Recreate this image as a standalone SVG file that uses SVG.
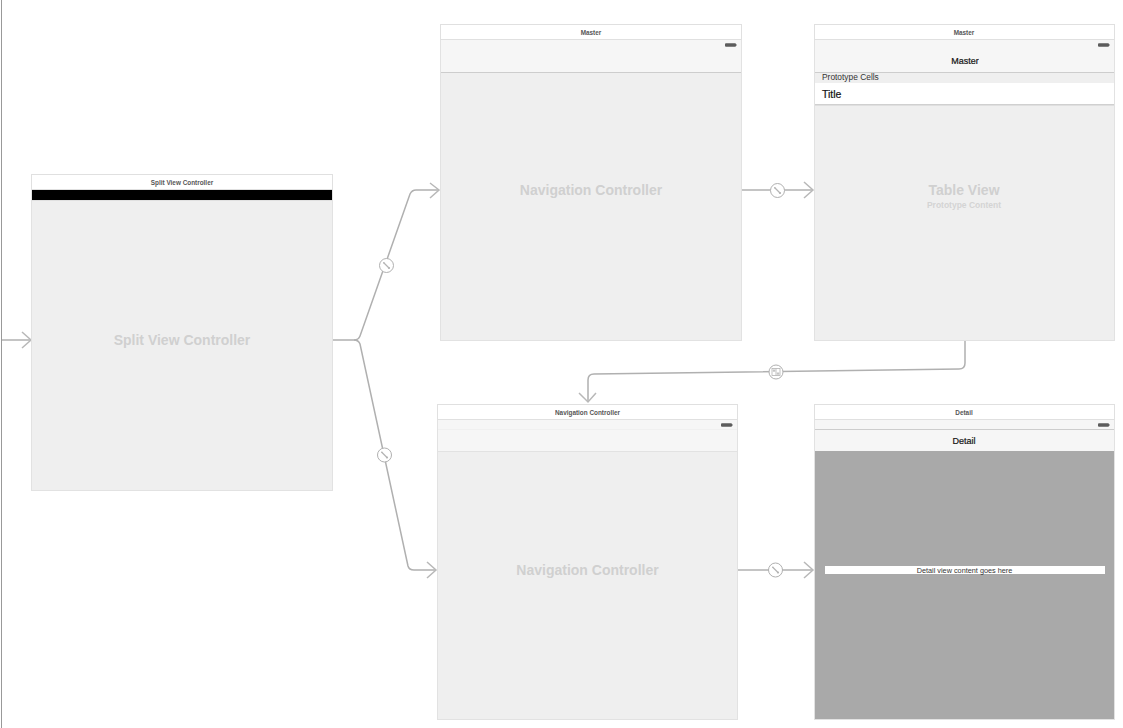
<svg xmlns="http://www.w3.org/2000/svg" width="1123" height="728" viewBox="0 0 1123 728">
<defs>
<style>
text{font-family:"Liberation Sans",Arial,sans-serif;text-anchor:middle;opacity:.99}
.frame{fill:#efefef;stroke:#e2e2e2;stroke-width:1}
.head{fill:#fff;stroke:#e0e0e0;stroke-width:1}
.bar{fill:#f6f6f6}
.sep{stroke:#cdcdcd;stroke-width:1;fill:none}
.ttl{font-size:6.400px;font-weight:bold;fill:#555}
.big{font-size:14px;font-weight:bold;fill:#d0d0d0}
.nav{font-size:9px;fill:#111;stroke:#111;stroke-width:.2}
.conn{fill:none;stroke:#b0b0b0;stroke-width:1.500}
.ah{fill:none;stroke:#b8b8b8;stroke-width:1.500}
.badge{fill:#fff;stroke:#b0b0b0;stroke-width:1}
.ic{fill:none;stroke:#b4b4b4;stroke-width:1.200;stroke-linecap:round}
.ic2{fill:none;stroke:#b4b4b4;stroke-width:.8}
</style>
<g id="batt"><rect x="0" y="0" width="11" height="3.400" rx="1" fill="#5c5c5c"/><rect x="11" y="1" width="1" height="1.400" fill="#999"/></g>
<g id="wrench"><circle class="badge" r="7"/><path class="ic" d="M-2.500-2.500L2.500 2.500"/><circle cx="2.500" cy="2.500" r="1.100" fill="#b4b4b4"/><circle cx="-2.700" cy="-2.700" r=".8" fill="#b4b4b4"/></g>
</defs>

<line x1="1.500" y1="0" x2="1.500" y2="728" stroke="#999" stroke-width="1"/>

<g id="connectors">
<path class="conn" d="M2 340H31"/>
<path class="conn" d="M332 340H354Q358.500 340 360 336L410 194Q412 190 416 190H439"/>
<path class="conn" d="M354 340Q358.500 340 360 344L408 566Q409 570 414 570H436"/>
<path class="conn" d="M741 190H813"/>
<path class="conn" d="M737.500 570H813"/>
<path class="conn" d="M965 340V363Q965 369 959 369L594 374Q588 374 588 380V402"/>
<path class="ah" d="M430 183L439 190L430 198"/>
<path class="ah" d="M22 332L31 340L22 348"/>
<path class="ah" d="M427 562L436 570L427 578"/>
<path class="ah" d="M804 182L813 190L804 198"/>
<path class="ah" d="M804 562L813 570L804 578"/>
<path class="ah" d="M579 393L588 402L596 393"/>
<use href="#wrench" x="386.500" y="265.500"/>
<use href="#wrench" x="384.500" y="455"/>
<use href="#wrench" x="777.500" y="190.500"/>
<use href="#wrench" x="775.500" y="570"/>
<circle class="badge" cx="776" cy="372" r="7"/><rect class="ic2" x="772" y="368.500" width="8" height="7"/><path class="ic2" d="M776 368.500V375.500"/><rect x="772.800" y="369.500" width="2.500" height="2.200" fill="#c4c4c4"/><rect x="776.800" y="372.500" width="2.500" height="2.200" fill="#c4c4c4"/>
</g>

<g id="split-view-controller">
<rect class="frame" x="31.500" y="174.500" width="301" height="316"/>
<rect class="head" x="31.500" y="174.500" width="301" height="15"/>
<rect x="32" y="190" width="300" height="10" fill="#000"/>
<rect x="32" y="200" width="300" height="1" fill="#e0e0e0"/>
<text class="ttl" x="182" y="185">Split View Controller</text>
<text class="big" x="182" y="345">Split View Controller</text>
</g>

<g id="navigation-controller-master">
<rect class="frame" x="440.500" y="24.500" width="301" height="316"/>
<rect class="head" x="440.500" y="24.500" width="301" height="15"/>
<rect class="bar" x="441" y="40" width="300" height="32"/>
<path class="sep" d="M441 72.500H741"/>
<use href="#batt" x="725" y="43.300"/>
<text class="ttl" x="591" y="35">Master</text>
<text class="big" x="591" y="195">Navigation Controller</text>
</g>

<g id="table-view-master">
<rect class="frame" x="814.500" y="24.500" width="300" height="316"/>
<rect class="head" x="814.500" y="24.500" width="300" height="15"/>
<rect class="bar" x="815" y="40" width="299" height="32"/>
<path class="sep" d="M815 72.500H1114"/>
<use href="#batt" x="1098" y="43.300"/>
<text class="ttl" x="964" y="35">Master</text>
<text class="nav" x="965" y="64">Master</text>
<text x="822" y="80" font-size="8.400px" fill="#333" style="text-anchor:start">Prototype Cells</text>
<rect x="815" y="83" width="299" height="21" fill="#fff"/>
<rect x="815" y="104" width="299" height="1.500" fill="#d0d0d0"/>
<text x="822" y="97.500" font-size="10.500px" fill="#111" stroke="#111" stroke-width=".2" style="text-anchor:start">Title</text>
<text class="big" x="964" y="195">Table View</text>
<text x="964" y="208" font-size="8.500px" font-weight="bold" fill="#d4d4d4">Prototype Content</text>
</g>

<g id="navigation-controller-detail">
<rect class="frame" x="437.500" y="404.500" width="300" height="315"/>
<rect class="head" x="437.500" y="404.500" width="300" height="15"/>
<rect class="bar" x="438" y="420" width="299" height="31"/>
<path d="M438 429.500H737" stroke="#f0f0f0" fill="none"/>
<path d="M438 451.500H737" stroke="#e2e2e2" fill="none"/>
<use href="#batt" x="721" y="423.300"/>
<text class="ttl" x="587.500" y="414.500">Navigation Controller</text>
<text class="big" x="587.500" y="575">Navigation Controller</text>
</g>

<g id="detail">
<rect class="frame" x="814.500" y="404.500" width="300" height="315"/>
<rect class="head" x="814.500" y="404.500" width="300" height="15"/>
<rect class="bar" x="815" y="420" width="299" height="31"/>
<path class="sep" d="M815 429.500H1114"/>
<rect x="815" y="451" width="299" height="268" fill="#a9a9a9"/>
<use href="#batt" x="1098" y="423.300"/>
<text class="ttl" x="964" y="414.500">Detail</text>
<text class="nav" x="964" y="444">Detail</text>
<rect x="825" y="566" width="280" height="8" fill="#fff"/>
<text x="964.500" y="572.500" font-size="7.300px" fill="#333">Detail view content goes here</text>
</g>
</svg>
